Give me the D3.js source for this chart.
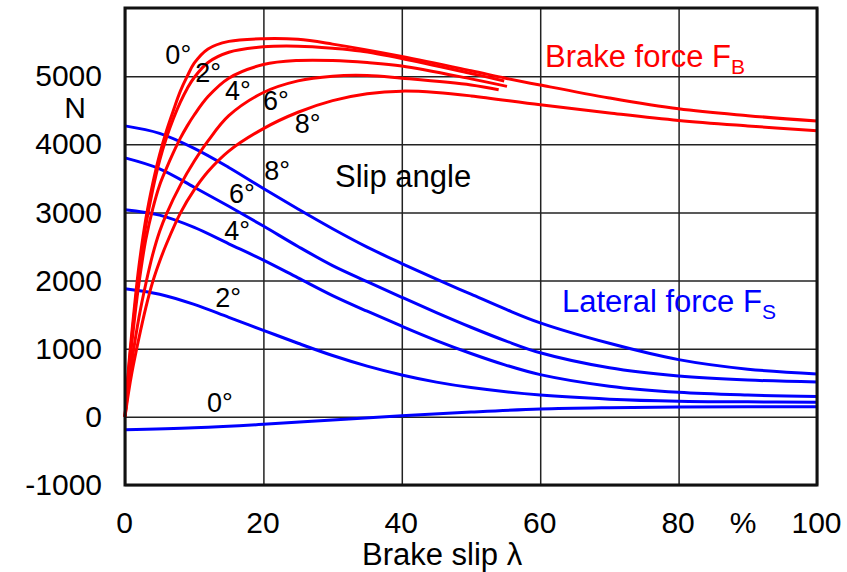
<!DOCTYPE html>
<html>
<head>
<meta charset="utf-8">
<script src="https://cdn.jsdelivr.net/npm/d3@7"></script>
<style>
  body { margin: 0; background: #fff; }
  svg { display: block; font-family: "Liberation Sans", Arial, sans-serif; }
</style>
</head>
<body>
<div id="chart"></div>
<script>
//Axis values
const xTicks = [0, 20, 40, 60, 80, 100];
const yTicks = [-1000, 0, 1000, 2000, 3000, 4000, 5000];
const slipAngles = [0, 2, 4, 6, 8];

//Brake force F_B per slip angle: [brake slip %, N]
const brake0 = [[0,0],[0.5,700],[1,1250],[1.5,1750],[2,2200],[3,2900],[4,3420],[5,3850],[6,4200],[7,4500],[8,4780],[9,5000],[10,5190],[12,5400],[15,5510],[20,5550],[25,5540],[30,5470],[40,5290],[50,5080],[55,4970],[60,4870],[70,4680],[80,4520],[90,4420],[100,4340]];
const brake2 = [[0,0],[0.5,650],[1,1180],[1.5,1660],[2,2100],[3,2800],[4,3330],[5,3760],[6,4100],[7,4380],[8,4620],[9,4820],[10,4980],[12,5200],[15,5350],[20,5430],[25,5440],[30,5410],[34,5370],[40,5260],[50,5040],[54.8,4930]];
const brake4 = [[0,0],[0.5,600],[1,1100],[1.5,1550],[2,1950],[3,2600],[4,3050],[5,3400],[6,3650],[7,3880],[8,4090],[9,4270],[10,4430],[12,4700],[15,4970],[20,5170],[25,5230],[30,5230],[35,5200],[40,5150],[50,4960],[55.2,4850]];
const brake6 = [[0,0],[0.5,450],[1,820],[2,1450],[3,1950],[4,2380],[5,2720],[6,2980],[8,3400],[10,3750],[12,4050],[15,4420],[20,4760],[25,4930],[30,5000],[35,5010],[40,4970],[50,4870],[54,4800]];
const brake8 = [[0,0],[0.5,350],[1,650],[2,1150],[3,1600],[4,1980],[5,2280],[6,2540],[8,2990],[10,3330],[12,3600],[15,3900],[20,4230],[25,4470],[30,4640],[35,4740],[40,4780],[45,4760],[50,4710],[60,4580],[70,4460],[80,4350],[90,4270],[100,4200]];

//Lateral force F_S per slip angle: [brake slip %, N]
const lateral0 = [[0,-190],[10,-160],[20,-110],[30,-45],[40,15],[50,70],[60,115],[70,135],[80,145],[90,148],[100,150]];
const lateral2 = [[0,1880],[5,1800],[10,1650],[15,1460],[20,1270],[25,1080],[30,900],[35,745],[40,615],[45,510],[50,430],[60,320],[70,260],[80,230],[90,220],[100,215]];
const lateral4 = [[0,3040],[5,2960],[10,2780],[15,2540],[20,2300],[25,2040],[30,1780],[35,1550],[40,1330],[45,1120],[50,930],[55,760],[60,620],[70,450],[80,360],[90,320],[100,300]];
const lateral6 = [[0,3800],[5,3640],[10,3370],[15,3090],[20,2800],[25,2500],[30,2220],[35,1985],[40,1755],[45,1530],[50,1315],[55,1115],[60,940],[70,720],[80,600],[90,540],[100,510]];
const lateral8 = [[0,4270],[5,4160],[10,3940],[15,3660],[20,3350],[25,3050],[30,2760],[35,2490],[40,2250],[45,2020],[50,1800],[55,1580],[60,1380],[70,1080],[80,840],[90,700],[100,630]];

const brakeSeries = [brake0, brake2, brake4, brake6, brake8];
const lateralSeries = [lateral0, lateral2, lateral4, lateral6, lateral8];

//SVG size and plot box
const w = 847, h = 572;
const margin = {top: 8, right: 30, bottom: 87, left: 125};
const pw = w - margin.left - margin.right;
const ph = h - margin.top - margin.bottom;

const svg = d3.select("#chart").append("svg")
    .attr("width", w)
    .attr("height", h)
    .style("background-color", "white");

const g = svg.append("g").attr("transform", `translate(${margin.left},${margin.top})`);

//Scales
const x = d3.scaleLinear().domain([0, 100]).range([0, pw]);
const y = d3.scaleLinear().domain([-1000, 6000]).range([ph, 0]);

//Grid + tick labels via axes
const yAxis = d3.axisLeft(y).tickValues(yTicks).tickFormat(d => String(d))
    .tickSizeInner(-pw).tickSizeOuter(0).tickPadding(23);
g.append("g").call(yAxis)
    .call(s => s.select(".domain").remove())
    .call(s => s.selectAll("line").attr("stroke", "#222").attr("stroke-width", 1.5))
    .call(s => s.selectAll("text").attr("fill", "#000").style("font-size", "30px").attr("x", -23));

const xAxis = d3.axisBottom(x).tickValues(xTicks).tickFormat(d => String(d))
    .tickSizeInner(-ph).tickSizeOuter(0).tickPadding(27);
g.append("g").attr("transform", `translate(0,${ph})`).call(xAxis)
    .call(s => s.select(".domain").remove())
    .call(s => s.selectAll("line").attr("stroke", "#222").attr("stroke-width", 1.5))
    .call(s => s.selectAll("text").attr("fill", "#000").style("font-size", "30px").attr("dx", "-1"));

//Curves
const line = d3.line()
    .x(d => x(d[0]))
    .y(d => y(d[1]))
    .curve(d3.curveCatmullRom.alpha(0.5));

g.append("g").selectAll("path")
    .data(lateralSeries)
    .enter()
    .append("path")
    .attr("d", line)
    .attr("fill", "none")
    .attr("stroke", "#0000ff")
    .attr("stroke-width", 3);

g.append("g").selectAll("path")
    .data(brakeSeries)
    .enter()
    .append("path")
    .attr("d", line)
    .attr("fill", "none")
    .attr("stroke", "#ff0000")
    .attr("stroke-width", 3);

//Frame
g.append("rect")
    .attr("width", pw).attr("height", ph)
    .attr("fill", "none").attr("stroke", "#111").attr("stroke-width", 3);

//Slip angle labels (anchor in data units)
const brakeLabelPos = [[7.7, 5180], [12.0, 4915], [16.3, 4650], [21.8, 4505], [26.4, 4170]];
const lateralLabelPos = [[13.7, 75], [14.9, 1615], [16.2, 2600], [16.9, 3140], [22.0, 3480]];

function angleLabels(pos) {
    g.append("g").selectAll("text")
        .data(slipAngles)
        .enter()
        .append("text")
        .attr("x", (d, i) => x(pos[i][0]))
        .attr("y", (d, i) => y(pos[i][1]))
        .attr("text-anchor", "middle")
        .style("font-size", "27px")
        .text(d => d + "°");
}
angleLabels(brakeLabelPos);
angleLabels(lateralLabelPos);

//Text annotations
g.append("text").attr("x", 210).attr("y", 179).style("font-size", "31px").text("Slip angle");

const fb = g.append("text").attr("x", 420).attr("y", 59).attr("fill", "#ff0000").style("font-size", "31px");
fb.append("tspan").text("Brake force F");
fb.append("tspan").attr("dy", 7).style("font-size", "21px").text("B");

const fs = g.append("text").attr("x", 437).attr("y", 304).attr("fill", "#0000ff").style("font-size", "31px");
fs.append("tspan").text("Lateral force F");
fs.append("tspan").attr("dy", 7).style("font-size", "21px").text("S");

//Axis titles
svg.append("text").attr("x", 75).attr("y", 118).attr("text-anchor", "middle").style("font-size", "30px").text("N");
svg.append("text").attr("x", 743).attr("y", 533).attr("text-anchor", "middle").style("font-size", "30px").text("%");
svg.append("text").attr("x", 362).attr("y", 565).style("font-size", "31px").text("Brake slip λ");
</script>
</body>
</html>
